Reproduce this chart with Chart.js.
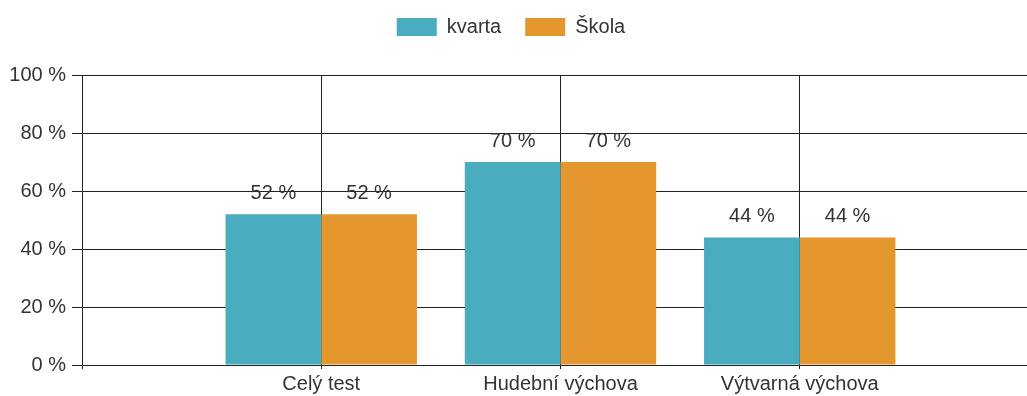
<!DOCTYPE html>
<html lang="cs">
<head>
<meta charset="utf-8">
<title>kvarta / Škola</title>
<script src="https://cdn.jsdelivr.net/npm/chart.js@4/dist/chart.umd.min.js"></script>
<style>
  html, body { margin: 0; padding: 0; background: #fff; overflow: hidden; }
  .wrap { position: relative; width: 1042px; height: 396px; }
</style>
</head>
<body>
<div class="wrap"><canvas id="vysledky"></canvas></div>
<script>
// empty slots at both ends keep the subjects off the axis edges
const kategorie = ["", "Celý test", "Hudební výchova", "Výtvarná výchova", ""];
const kvarta = [null, 52, 70, 44, null];
const skola = [null, 52, 70, 44, null];
const osaY = [0, 20, 40, 60, 80, 100];

const FONT = "'Liberation Sans', Arial, sans-serif";
const TEXT = "#333";
const LINE = "#222";

// percentage above each bar
const popisky = {
  id: "popisky",
  afterDatasetsDraw(chart) {
    const ctx = chart.ctx;
    ctx.save();
    ctx.font = "20px " + FONT;
    ctx.fillStyle = TEXT;
    ctx.textAlign = "center";
    ctx.textBaseline = "alphabetic";
    chart.data.datasets.forEach((ds, i) => {
      chart.getDatasetMeta(i).data.forEach((bar, j) => {
        const v = ds.data[j];
        if (v === null) return;
        ctx.fillText(v + " %", bar.x, bar.y - 15);
      });
    });
    ctx.restore();
  }
};

// legend sits a little left of the canvas centre
const legenda = {
  id: "legenda",
  afterLayout(chart) {
    chart.legend.left -= 10;
    chart.legend.right -= 10;
  }
};

new Chart(document.getElementById("vysledky"), {
  type: "bar",
  data: {
    labels: kategorie,
    datasets: [
      { label: "kvarta", data: kvarta, backgroundColor: "#4aacbf" },
      { label: "Škola", data: skola, backgroundColor: "#e5972f" }
    ]
  },
  options: {
    responsive: true,
    maintainAspectRatio: false,
    animation: false,
    layout: { padding: { top: -7, left: 0, right: 0, bottom: 0 } },
    datasets: { bar: { categoryPercentage: 0.8, barPercentage: 1 } },
    plugins: {
      tooltip: { enabled: false },
      legend: {
        position: "top",
        labels: {
          boxWidth: 40,
          boxHeight: 18,
          padding: 24,
          color: TEXT,
          font: { family: FONT, size: 20 }
        }
      }
    },
    scales: {
      x: {
        offset: false,
        grid: { offset: false, color: LINE, lineWidth: 1, tickLength: 4 },
        border: { color: LINE },
        ticks: {
          autoSkip: false,
          maxRotation: 0,
          padding: 3,
          color: TEXT,
          font: { family: FONT, size: 20 }
        },
        afterFit(s) { s.height = 31; }
      },
      // empty band between the legend and the plot
      mezera: {
        type: "category",
        position: "top",
        grid: { display: false },
        border: { display: false },
        ticks: { display: false },
        afterFit(s) { s.height = 28; }
      },
      y: {
        min: 0,
        max: 100,
        afterBuildTicks(s) { s.ticks = osaY.map(v => ({ value: v })); },
        grid: { color: LINE, lineWidth: 1, tickLength: 10 },
        border: { color: LINE },
        ticks: {
          padding: 6,
          color: TEXT,
          font: { family: FONT, size: 20 },
          callback: v => v + " %"
        },
        afterFit(s) { s.width = 82; }
      }
    }
  },
  plugins: [popisky, legenda]
});
</script>
</body>
</html>
